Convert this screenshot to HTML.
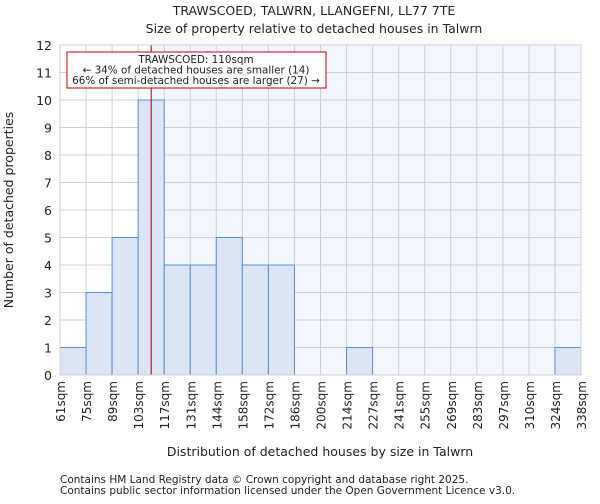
<!DOCTYPE html>
<html><head><meta charset="utf-8"><style>
body{margin:0;background:#fff;font-family:"DejaVu Sans","Liberation Sans",sans-serif;}
svg text{font-family:"DejaVu Sans","Liberation Sans",sans-serif;fill:#222;}
</style></head><body>
<svg id="chart" width="600" height="500" viewBox="0 0 600 500" xmlns="http://www.w3.org/2000/svg">
<text x="314" y="15" font-size="12.5" text-anchor="middle">TRAWSCOED, TALWRN, LLANGEFNI, LL77 7TE</text>
<text x="314" y="33" font-size="12.5" text-anchor="middle">Size of property relative to detached houses in Talwrn</text>
<g id="plot"></g>
<text x="320" y="456" font-size="12.5" text-anchor="middle">Distribution of detached houses by size in Talwrn</text>
<text transform="translate(13,210) rotate(-90)" font-size="12.5" text-anchor="middle">Number of detached properties</text>
<text x="60" y="483" font-size="10.5">Contains HM Land Registry data © Crown copyright and database right 2025.</text>
<text x="60" y="494" font-size="10.5">Contains public sector information licensed under the Open Government Licence v3.0.</text>
</svg>
<script>
const binLabels=["61sqm","75sqm","89sqm","103sqm","117sqm","131sqm","144sqm","158sqm","172sqm","186sqm","200sqm","214sqm","227sqm","241sqm","255sqm","269sqm","283sqm","297sqm","310sqm","324sqm","338sqm"];
const binEdges=[61,75,89,103,117,131,144,158,172,186,200,214,227,241,255,269,283,297,310,324,338];
const counts=[1,3,5,10,4,4,5,4,4,0,0,1,0,0,0,0,0,0,0,1];
const yTicks=[0,1,2,3,4,5,6,7,8,9,10,11,12];
const propertySize=110;
const X0=60,X1=581,Y0=375,Y1=45,yMax=12;
const nb=counts.length;
function xIdx(i){return X0+(X1-X0)*i/nb;}
function xVal(v){let i=0;while(i<nb-1&&v>binEdges[i+1])i++;return xIdx(i)+(xIdx(i+1)-xIdx(i))*(v-binEdges[i])/(binEdges[i+1]-binEdges[i]);}
function y(v){return Y0-(Y0-Y1)*v/yMax;}
const NS="http://www.w3.org/2000/svg",g=document.getElementById('plot');
function mk(t,a){const e=document.createElementNS(NS,t);for(const k in a)e.setAttribute(k,a[k]);g.appendChild(e);return e;}
const px=xVal(propertySize);
let r=mk('rect',{x:px,y:Y1,width:X1-px,height:Y0-Y1,fill:'#f3f6fd'});


for(let i=0;i<=nb;i++){let l=mk('line',{x1:xIdx(i),x2:xIdx(i),y1:Y1,y2:Y0,stroke:'#d0d0d0','stroke-width':1});

}
yTicks.forEach(t=>{let l=mk('line',{x1:X0,x2:X1,y1:y(t),y2:y(t),stroke:'#d0d0d0','stroke-width':1});


let tx=mk('text',{x:X0-8,y:y(t)+5,'font-size':12.5,'text-anchor':'end'});tx.textContent=t;

});
counts.forEach((c,i)=>{if(c<=0)return;let b=mk('rect',{x:xIdx(i),y:y(c),width:xIdx(i+1)-xIdx(i),height:Y0-y(c),fill:'#dce5f5',stroke:'#5a8ed0','stroke-width':1});

});
binLabels.forEach((s,i)=>{let tx=mk('text',{transform:`translate(${xIdx(i)+5},${Y0+6}) rotate(-90)`,'font-size':12,'text-anchor':'end'});tx.textContent=s;

});
let pl=mk('line',{x1:px,x2:px,y1:Y1,y2:Y0,stroke:'#a00000','stroke-width':1});


let ab=mk('rect',{x:67,y:52,width:259,height:36,fill:'#fff',stroke:'#c00000','stroke-width':1});


[["TRAWSCOED: 110sqm",63],["← 34% of detached houses are smaller (14)",73.5],["66% of semi-detached houses are larger (27) →",84]].forEach(([s,yy])=>{let tx=mk('text',{x:196,y:yy,'font-size':10.4,'text-anchor':'middle'});tx.textContent=s;

});
let ax=mk('rect',{x:X0,y:Y1,width:X1-X0,height:Y0-Y1,fill:'none',stroke:'#d0d0d0'});


</script>
</body></html>
